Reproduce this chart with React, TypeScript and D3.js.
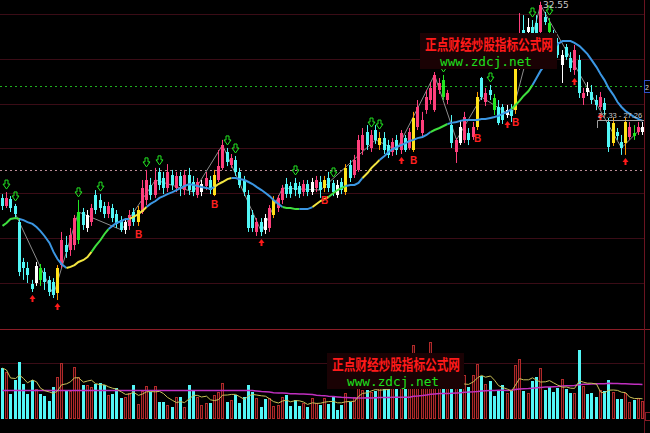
import React from "react";
import * as d3 from "d3";

const N = 152;

const openP = [
  23.79,23.43,23.74,23.43,22.71,20.93,20.66,19.95,19.99,20.66,
  20.48,20.13,20.04,19.54,20.79,21.69,21.46,21.69,21.91,23.16,
  22.45,22.71,23.92,23.70,23.43,23.07,23.34,23.07,22.80,22.36,
  22.54,23.16,22.71,23.16,23.70,24.37,23.92,24.95,24.68,24.23,
  24.81,24.23,24.77,24.14,24.81,24.50,23.92,24.05,24.32,24.59,
  23.92,24.59,25.13,25.84,25.26,25.48,24.95,24.59,23.92,23.03,
  22.27,22.71,22.89,22.45,23.03,23.34,23.70,24.41,24.32,24.46,
  24.32,24.05,24.41,24.05,24.23,24.50,24.23,24.68,24.46,24.37,
  24.50,24.05,25.26,24.81,25.04,25.93,26.73,26.02,26.82,26.15,
  26.46,26.15,25.84,26.38,25.93,26.46,26.02,25.93,26.96,26.69,
  27.71,28.16,27.71,28.61,29.05,28.16,27.04,25.84,26.96,26.38,
  26.69,26.51,26.96,29.14,28.07,28.61,28.25,27.85,27.85,27.49,
  27.71,27.71,29.72,31.29,31.20,31.42,31.60,31.20,31.87,31.60,
  31.06,30.75,29.72,30.53,30.04,29.50,29.95,28.25,28.70,28.52,
  28.16,27.85,28.03,27.18,26.24,26.73,26.29,26.24,26.51,26.69,
  26.73,26.73,
];
const highP = [
  23.96,24.05,23.87,23.52,22.89,21.11,20.93,20.13,20.93,20.84,
  20.66,20.30,20.21,20.79,22.27,22.09,22.45,23.03,23.70,23.34,
  23.25,23.52,24.14,23.96,23.61,23.61,23.52,23.25,22.98,22.89,
  23.25,23.34,23.43,24.59,25.04,24.68,25.13,25.13,24.95,25.30,
  25.04,24.95,24.95,25.04,25.13,24.77,24.68,24.59,24.95,24.77,
  25.04,25.93,26.38,26.02,25.75,25.66,25.13,24.77,24.14,23.25,
  22.89,22.89,23.07,23.47,23.87,23.92,24.37,24.68,24.50,24.68,
  24.50,24.59,24.59,24.68,24.77,24.77,24.77,24.95,24.59,24.59,
  24.68,25.30,25.48,25.71,26.60,26.91,27.04,26.82,27.04,26.73,
  26.73,26.38,26.46,26.60,26.82,26.60,26.91,27.63,28.16,27.63,
  28.61,28.96,29.41,29.14,29.28,28.61,27.49,26.46,27.27,27.63,
  26.91,27.18,28.52,29.19,28.70,28.83,28.43,28.16,27.98,27.94,
  27.98,29.68,32.04,31.95,31.82,31.73,31.95,32.55,32.09,31.82,
  31.29,30.93,30.39,30.66,30.30,30.62,30.17,28.70,28.96,28.83,
  28.38,28.52,28.25,27.36,27.36,26.91,26.60,27.36,27.18,27.04,
  27.18,27.18,
];
const lowP = [
  23.25,23.34,23.16,22.89,20.30,20.13,19.99,19.59,19.86,19.86,
  19.68,19.41,19.32,19.23,20.66,21.11,21.20,21.46,21.73,22.36,
  22.27,22.54,23.07,23.16,22.89,22.89,22.71,22.45,22.27,22.18,
  22.36,22.54,22.54,23.07,23.47,23.70,23.79,24.14,23.96,24.05,
  24.14,24.05,23.87,23.92,23.92,23.87,23.79,23.87,24.14,23.96,
  23.87,24.50,25.04,25.21,25.13,24.77,24.23,23.87,22.27,22.27,
  22.09,22.09,22.18,22.27,22.89,23.16,23.52,23.79,23.79,23.87,
  23.79,23.87,23.87,23.92,24.05,23.79,24.05,24.05,23.87,23.79,
  23.96,23.92,24.50,24.68,24.95,25.71,25.93,25.84,26.20,25.93,
  25.75,25.57,25.66,25.71,25.75,25.84,25.93,25.84,26.82,26.55,
  27.54,27.98,27.63,28.43,28.16,27.98,26.02,25.35,26.15,26.24,
  26.15,26.38,26.82,28.16,27.89,28.16,27.49,27.04,27.09,27.36,
  27.18,27.54,29.50,30.84,31.02,30.93,31.02,31.02,31.51,30.84,
  30.17,30.04,28.92,29.95,29.41,29.28,28.25,27.94,28.34,27.98,
  27.71,27.71,27.49,25.84,26.11,26.38,25.71,25.71,26.38,26.38,
  26.60,26.60,
];
const closeP = [
  23.43,23.79,23.34,23.07,20.48,20.66,20.35,19.73,20.75,20.13,
  20.04,19.59,19.46,20.66,21.91,21.38,22.13,22.89,23.16,22.58,
  23.03,23.34,23.25,23.34,23.07,23.43,22.89,22.63,22.36,22.71,
  23.03,22.71,23.25,24.23,24.59,23.92,24.59,24.37,24.23,24.95,
  24.37,24.77,24.32,24.81,24.14,24.05,24.50,24.41,24.68,24.14,
  24.81,25.21,26.15,25.39,25.57,24.95,24.37,24.05,22.45,22.45,
  22.71,22.27,22.36,23.34,23.70,23.79,24.23,23.96,23.96,24.14,
  23.96,24.41,24.05,24.50,24.59,24.14,24.59,24.23,24.05,23.92,
  24.14,25.13,24.68,25.48,26.38,26.60,26.15,26.60,26.38,26.46,
  25.93,25.71,26.29,25.93,26.69,25.93,26.73,27.36,27.85,27.27,
  28.29,28.70,29.28,28.92,28.29,28.47,26.24,26.38,26.24,27.40,
  26.38,26.96,28.29,28.29,28.47,28.38,27.71,27.14,27.27,27.71,
  27.45,29.59,31.06,30.97,31.42,31.15,31.15,32.40,31.64,31.20,
  30.62,30.17,30.17,30.08,29.59,30.39,28.47,28.47,28.52,28.16,
  27.94,28.29,27.71,26.06,27.14,26.55,26.02,27.18,26.96,26.55,
  26.96,26.96,
];
const volume = [
  51,47,25,39,57,35,25,39,30,25,
  23,18,32,42,56,28,28,52,42,34,
  34,32,35,36,34,24,25,31,21,22,
  26,34,15,28,33,27,33,17,17,14,
  12,22,22,12,34,28,22,14,16,16,
  24,27,36,17,19,24,16,22,34,27,
  21,12,20,21,13,14,22,24,13,19,
  13,16,12,21,16,14,21,15,22,9,
  14,26,17,22,34,29,29,27,28,31,
  31,31,34,31,31,31,34,74,31,39,
  41,77,39,34,31,34,31,35,31,44,
  32,44,55,43,35,38,23,28,34,26,
  28,54,60,28,26,38,42,51,29,32,
  27,31,40,30,26,26,69,33,25,26,
  22,29,28,39,27,20,20,26,17,19,
  21,18,
];
// trend line (moving average)
const maLine = [
  22.54,22.67,22.85,22.89,22.85,22.80,22.71,22.63,22.49,22.31,
  22.09,21.78,21.38,21.06,20.84,20.66,20.71,20.79,20.93,21.02,
  21.15,21.38,21.64,21.91,22.18,22.40,22.54,22.67,22.76,22.85,
  22.85,22.94,23.07,23.21,23.38,23.52,23.65,23.79,23.87,23.96,
  24.05,24.14,24.23,24.32,24.41,24.37,24.32,24.28,24.23,24.19,
  24.28,24.41,24.50,24.63,24.68,24.68,24.63,24.59,24.50,24.41,
  24.28,24.14,24.01,23.87,23.70,23.52,23.38,23.34,23.34,23.29,
  23.29,23.29,23.29,23.38,23.52,23.65,23.74,23.83,24.01,24.14,
  24.23,24.32,24.37,24.37,24.46,24.68,24.90,25.13,25.30,25.48,
  25.66,25.84,25.97,26.06,26.15,26.24,26.33,26.38,26.46,26.51,
  26.60,26.73,26.82,26.91,27.00,27.09,27.14,27.18,27.23,27.27,
  27.27,27.27,27.27,27.31,27.31,27.36,27.40,27.45,27.54,27.63,
  27.76,27.94,28.12,28.34,28.56,28.83,29.14,29.46,29.77,30.08,
  30.39,30.66,30.79,30.79,30.79,30.71,30.57,30.39,30.21,29.95,
  29.63,29.32,29.05,28.70,28.38,28.07,27.85,27.67,27.54,27.40,
  27.31,27.23,
];
const maSegments = [
  { from: 0, to: 3, kind: "g" }, { from: 4, to: 14, kind: "b" },
  { from: 15, to: 20, kind: "y" }, { from: 21, to: 24, kind: "g" },
  { from: 25, to: 29, kind: "b" }, { from: 30, to: 33, kind: "y" },
  { from: 34, to: 49, kind: "b" }, { from: 50, to: 53, kind: "y" },
  { from: 54, to: 65, kind: "b" }, { from: 66, to: 69, kind: "g" },
  { from: 70, to: 72, kind: "b" }, { from: 73, to: 76, kind: "y" },
  { from: 77, to: 80, kind: "g" }, { from: 81, to: 84, kind: "b" },
  { from: 85, to: 88, kind: "y" }, { from: 89, to: 100, kind: "b" },
  { from: 101, to: 104, kind: "g" }, { from: 105, to: 119, kind: "b" },
  { from: 120, to: 124, kind: "g" }, { from: 125, to: 151, kind: "b" },
];
const yellowBars = [13, 32, 50, 64, 76, 81, 89, 97, 112, 121, 144, 147];
const whiteBars = [8, 20, 29, 47, 62, 73, 79, 108, 119, 124, 132, 138, 151];
const greenBars = [9, 18, 104, 116, 129, 149];
const buyLabels = [32, 50, 76, 97, 112, 121];
const redArrows = [7, 13, 61, 94, 119, 135, 141, 147];
const greenIcons = [1, 3, 18, 23, 34, 37, 53, 55, 69, 78, 87, 89, 104, 115, 125, 129];
const zigPivots = [3, 12, 18, 28, 36, 45, 52, 61, 66, 75, 88, 93, 102, 107, 113, 120, 127, 146, 151];
const gridPrices = [32, 30, 28, 26, 24, 22, 20];
const greenDotted = 28.79;
const pinkDotted = 25.04;
const highLabel = "32.55";
const rangeLabel = "27.33 - 27.26";
const edgeLabel = "2";
const titleCN = "正点财经炒股指标公式网";
const titleURL = "www.zdcj.net";

const MA_COL: Record<string, string> = { b: "#3b97e3", y: "#f2e640", g: "#3fe03f" };

export default function App() {
  const W = 650, H = 433;
  const x = d3.scaleLinear().domain([0, N - 1]).range([2, 642.2]);
  const y = d3.scaleLinear().domain([18, 32]).range([327.6, 14]);
  const yv = d3.scaleLinear().domain([0, 89]).range([419, 330]);

  const ySet = new Set(yellowBars), wSet = new Set(whiteBars), gSet = new Set(greenBars);
  const cx = (i: number) => Math.round(x(i));

  const ma5 = volume.map((_, i) => d3.mean(volume.slice(Math.max(0, i - 4), i + 1)) as number);
  const base60 = d3.mean(volume.slice(0, 60)) as number;
  const ma60 = volume.map((_, i) => (i < 59 ? base60 : (d3.mean(volume.slice(i - 59, i + 1)) as number)));
  const volLine = d3.line<number>().x((_, i) => cx(i) + 0.5).y((d) => yv(d));

  const zig = d3.line<number>().x((i) => cx(i) + 0.5).y((i) => y(closeP[i]));

  const candleColor = (i: number) => {
    if (ySet.has(i)) return { fill: "#ffe21a", stroke: "#ff9a00" };
    if (wSet.has(i)) return { fill: "#ffffff", stroke: "#ffffff" };
    if (gSet.has(i)) return { fill: "#22e622", stroke: "#22e622" };
    return closeP[i] >= openP[i]
      ? { fill: "#ff3f7c", stroke: "#ff3f7c" }
      : { fill: "#52f6f6", stroke: "#52f6f6" };
  };

  return (
    <svg width={W} height={H} style={{ position: "fixed", left: 0, top: 0, background: "#000" }}>
      <rect width={W} height={H} fill="#000" />
      {/* grid */}
      {gridPrices.map((p) => (
        <line key={p} x1={0} x2={644} y1={Math.round(y(p)) + 0.5} y2={Math.round(y(p)) + 0.5} stroke="#3a0c16" strokeWidth={1} />
      ))}
      <line x1={0} x2={644} y1={Math.round(y(greenDotted)) + 0.5} y2={Math.round(y(greenDotted)) + 0.5} stroke="#1fb01f" strokeDasharray="2,3" />
      <line x1={0} x2={644} y1={Math.round(y(pinkDotted)) + 0.5} y2={Math.round(y(pinkDotted)) + 0.5} stroke="#b88a94" strokeDasharray="2,3" />
      <line x1={0} x2={650} y1={329.5} y2={329.5} stroke="#8a1c26" />
      <line x1={644.5} x2={644.5} y1={0} y2={433} stroke="#6a1420" />
      <line x1={0} x2={644} y1={Math.round(yv(56)) + 0.5} y2={Math.round(yv(56)) + 0.5} stroke="#3a0c16" />

      {/* zigzag */}
      <path d={zig(zigPivots) || ""} fill="none" stroke="#8c8c8c" strokeWidth={1} />

      {/* candles */}
      {openP.map((o, i) => {
        const c = closeP[i];
        const col = candleColor(i);
        const top = Math.round(y(Math.max(o, c)));
        const bot = Math.round(y(Math.min(o, c)));
        return (
          <g key={i}>
            <line x1={cx(i) + 0.5} x2={cx(i) + 0.5} y1={y(highP[i])} y2={y(lowP[i])} stroke={col.stroke} strokeWidth={1} />
            <rect x={cx(i) - 1} y={top} width={3} height={Math.max(1, bot - top)} fill={col.fill} />
          </g>
        );
      })}

      {/* moving average */}
      {maSegments.map((s, k) => {
        const idx = d3.range(s.from, Math.min(s.to + 2, N));
        const ln = d3.line<number>().x((i) => cx(i) + 0.5).y((i) => y(maLine[i]));
        return <path key={k} d={ln(idx) || ""} fill="none" stroke={MA_COL[s.kind]} strokeWidth={2} />;
      })}

      {/* markers */}
      {greenIcons.map((i) => {
        const X = cx(i) + 0.5, Y = y(highP[i]) - 12;
        return (
          <path key={"g" + i} d={`M${X - 1.5},${Y} L${X + 1.5},${Y} L${X + 1.5},${Y + 4} L${X + 3.5},${Y + 4} L${X},${Y + 9} L${X - 3.5},${Y + 4} L${X - 1.5},${Y + 4} Z`} fill="none" stroke="#22e622" strokeWidth={1} />
        );
      })}
      {redArrows.map((i) => {
        const X = cx(i) + 0.5, Y = y(lowP[i]) + 3;
        return (
          <path key={"r" + i} d={`M${X},${Y} L${X + 3},${Y + 4} L${X + 1},${Y + 4} L${X + 1},${Y + 7} L${X - 1},${Y + 7} L${X - 1},${Y + 4} L${X - 3},${Y + 4} Z`} fill="#ff1a1a" />
        );
      })}
      {buyLabels.map((i) => (
        <text key={"b" + i} x={cx(i) + 0.5} y={y(lowP[i]) + 12} fontSize={10} fontWeight="bold" fontFamily="Liberation Sans, Arial" fill="#ff2020" textAnchor="middle">B</text>
      ))}

      {/* annotations */}
      <text x={543} y={8} fontSize={9} fontFamily="DejaVu Sans, sans-serif" fill="#c8c8c8">{highLabel}</text>
      <line x1={597.5} x2={644} y1={120.5} y2={120.5} stroke="#a0a0a0" />
      <line x1={597.5} x2={597.5} y1={120.5} y2={128} stroke="#a0a0a0" />
      <text x={598} y={118} fontSize={7.5} fontFamily="Liberation Sans, Arial, sans-serif" fill="#c8c8c8">{rangeLabel}</text>
      <rect x={644.5} y={80.5} width={8} height={12} fill="#000" stroke="#3050c8" />
      <text x={645} y={90} fontSize={7} fontFamily="Liberation Sans, Arial, sans-serif" fill="#ddd">{edgeLabel}</text>

      {/* volume */}
      {volume.map((v, i) => {
        const up = closeP[i] >= openP[i];
        const top = Math.round(yv(v));
        return up ? (
          <rect key={"v" + i} x={cx(i) - 0.5} y={top + 0.5} width={2} height={419 - top - 1} fill="#2a0508" stroke="#b02a2a" strokeWidth={1} />
        ) : (
          <rect key={"v" + i} x={cx(i) - 1} y={top} width={3} height={419 - top} fill="#52f6f6" />
        );
      })}
      <path d={volLine(ma60) || ""} fill="none" stroke="#c030c0" strokeWidth={1.5} />
      <path d={volLine(ma5) || ""} fill="none" stroke="#c8c058" strokeWidth={1} />
      <rect x={645.5} y={412.5} width={6} height={8} fill="#000" stroke="#8a1c26" />

      {/* watermarks */}
      {[{ x0: 420, y0: 33 }, { x0: 327, y0: 353 }].map((w, k) => (
        <g key={"wm" + k}>
          <rect x={w.x0} y={w.y0} width={137} height={36} fill="#1a0204" />
          <text x={w.x0 + 5} y={w.y0 + 17} fontSize={15} fontWeight="bold" fontFamily="Noto Sans CJK SC" fill="#ff1a1a" textLength={128} lengthAdjust="spacingAndGlyphs">{titleCN}</text>
          <text x={w.x0 + 20} y={w.y0 + 33} fontSize={12} fontFamily="DejaVu Sans Mono" fill="#1ee01e" textLength={92} lengthAdjust="spacingAndGlyphs">{titleURL}</text>
        </g>
      ))}
    </svg>
  );
}
